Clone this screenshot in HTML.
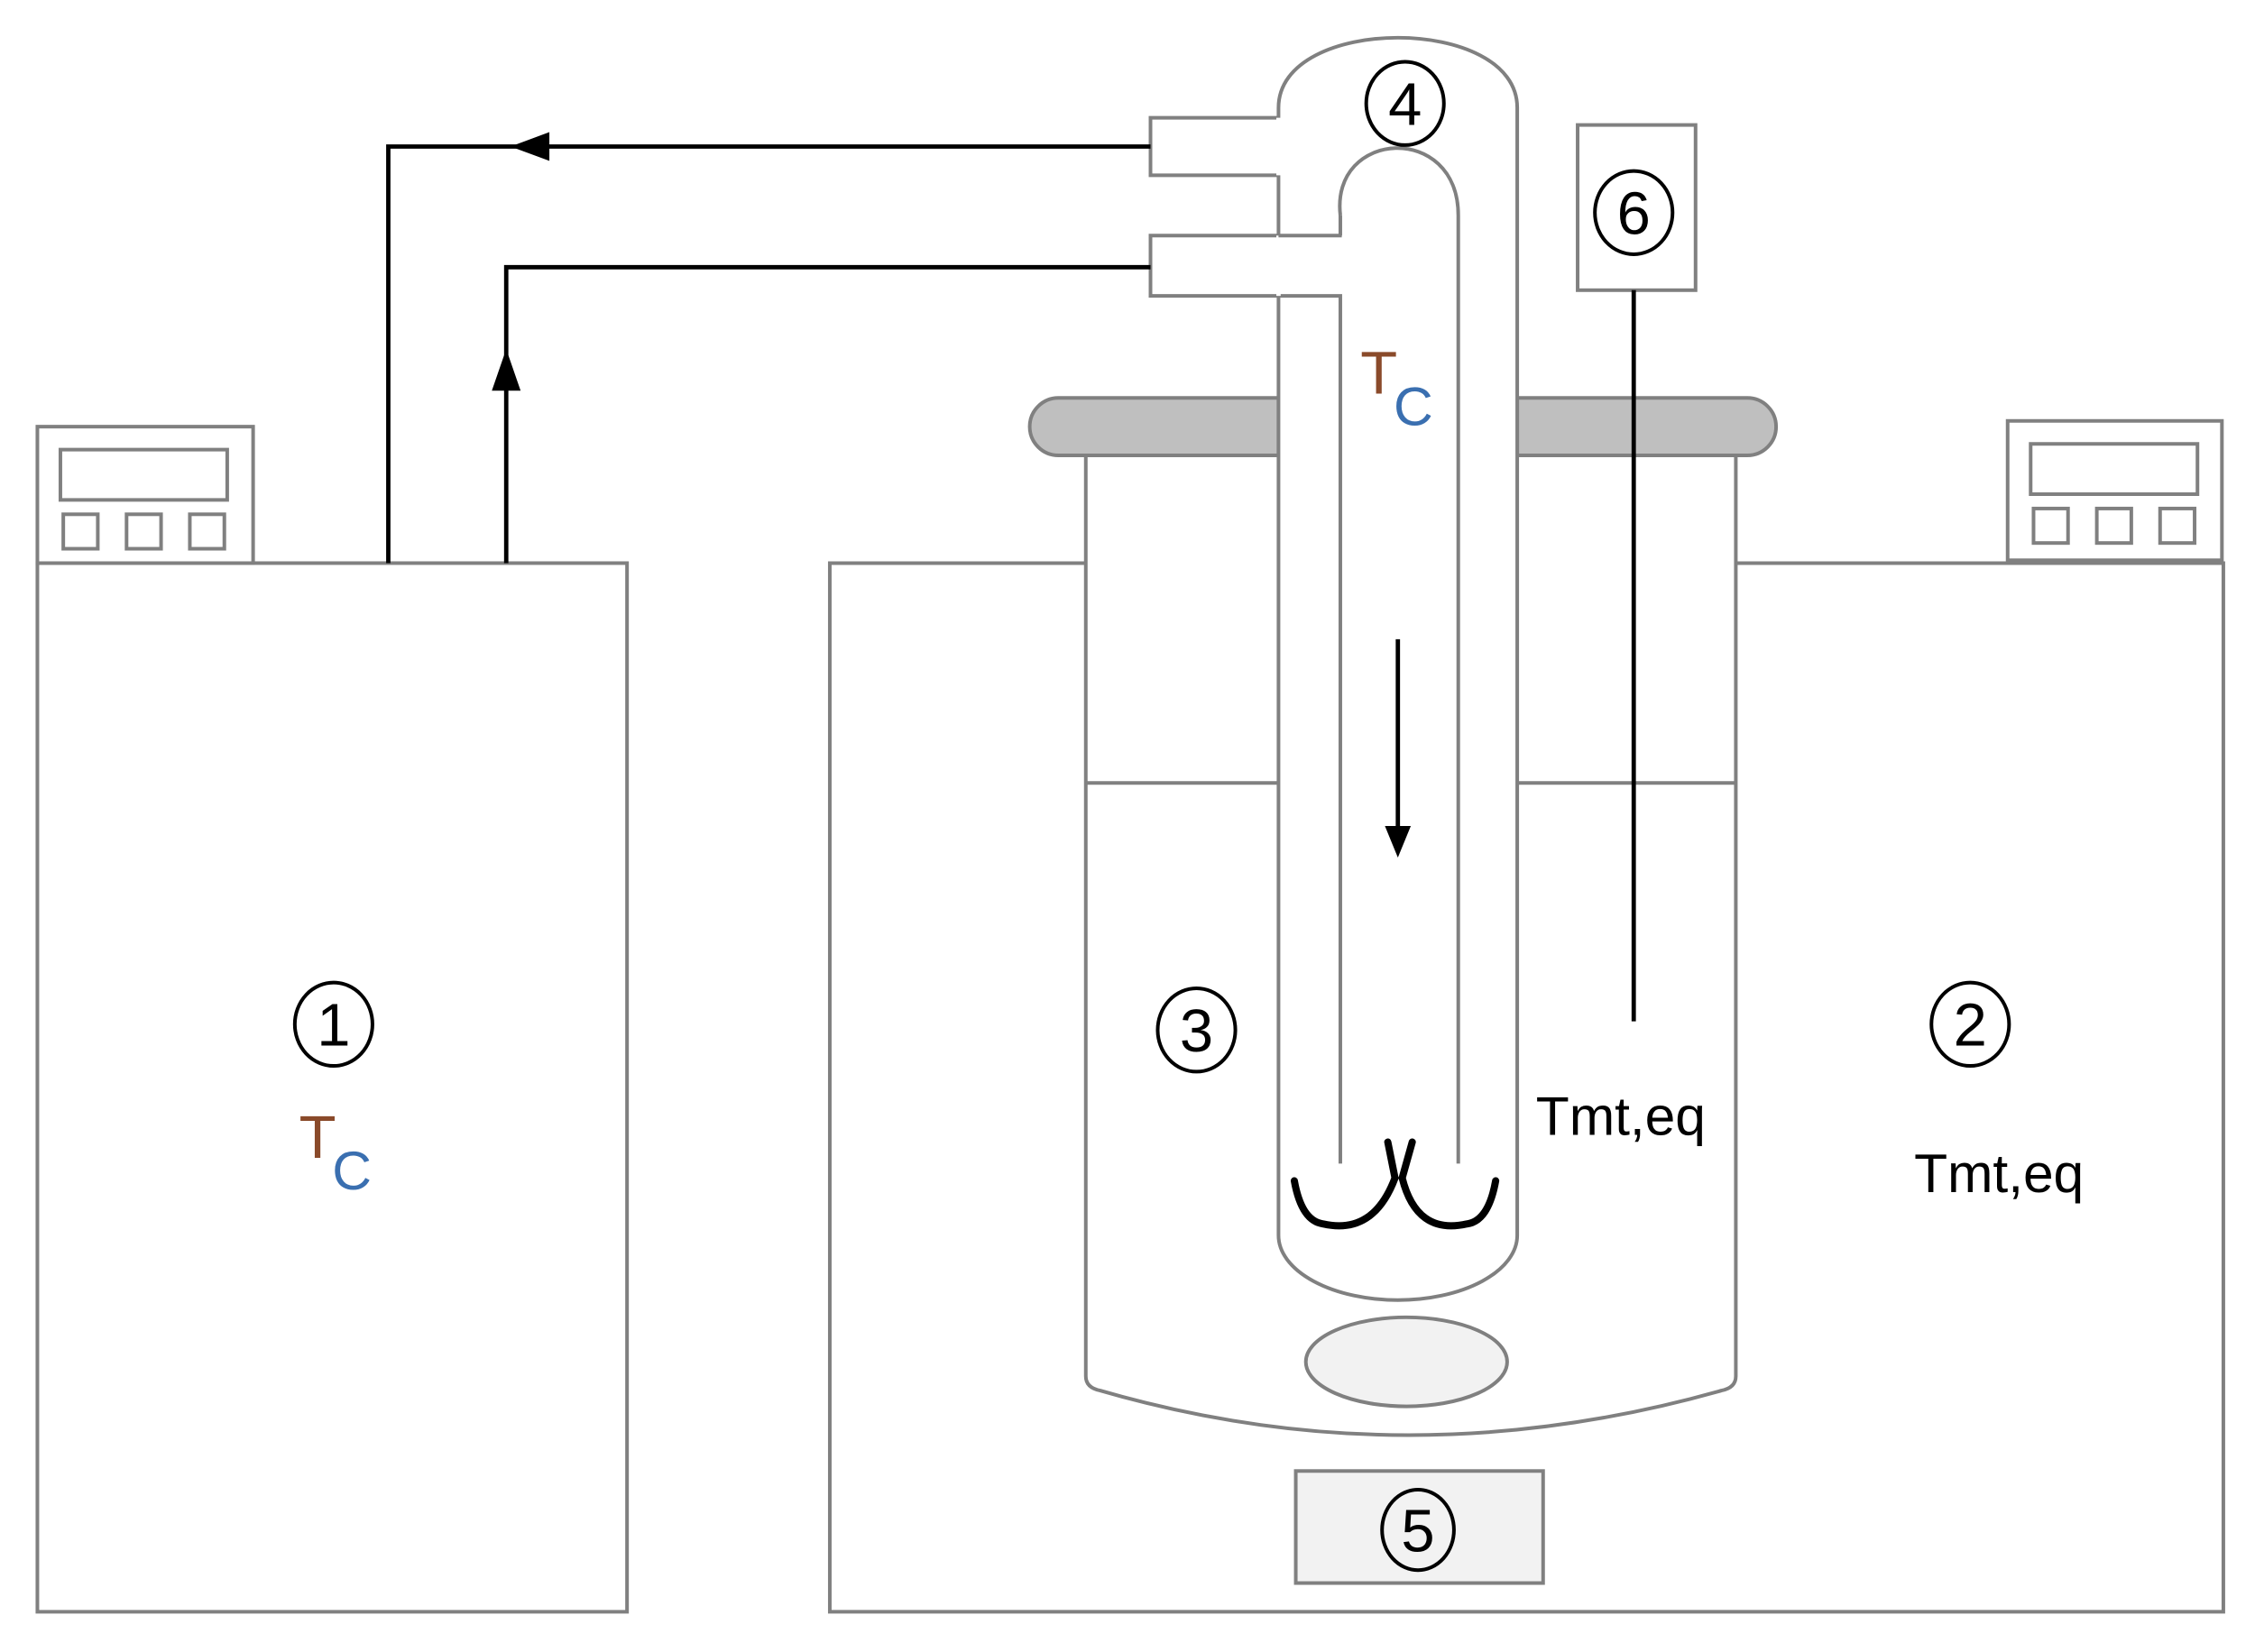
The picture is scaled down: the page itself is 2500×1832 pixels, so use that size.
<!DOCTYPE html>
<html><head><meta charset="utf-8"><style>
html,body{margin:0;padding:0;background:#fff;}
svg{display:block;}
text{font-family:"Liberation Sans","DejaVu Sans",sans-serif;}
</style></head><body>
<svg width="2500" height="1832" viewBox="0 0 1568 1150" preserveAspectRatio="none" xmlns="http://www.w3.org/2000/svg">
<g fill="none" stroke="#808080" stroke-width="2.5">
<rect x="26" y="392" width="410" height="730" fill="#fff"/>
<rect x="26" y="297" width="150" height="95" fill="#fff"/>
<rect x="42" y="313" width="116" height="35"/>
<rect x="44" y="358" width="24" height="24"/><rect x="88" y="358" width="24" height="24"/><rect x="132" y="358" width="24" height="24"/>
<path d="M755,392 H577 V1122 H1546 V392 H1207"/>
<rect x="1396" y="293" width="149" height="97" fill="#fff"/>
<rect x="1412" y="309" width="116" height="35"/>
<rect x="1414" y="354" width="24" height="24"/><rect x="1458" y="354" width="24" height="24"/><rect x="1502" y="354" width="24" height="24"/>
<path d="M755,317 V958 Q755,966 765,968 Q978,1030 1197,968 Q1207,966 1207,958 V317"/>
<line x1="755" y1="545" x2="889" y2="545"/>
<line x1="1055" y1="545" x2="1207" y2="545"/>
<path d="M889,277 H736 A20,20 0 0 0 736,317 H889 Z" fill="#bfbfbf"/>
<path d="M1055,277 H1215 A20,20 0 0 1 1215,317 H1055 Z" fill="#bfbfbf"/>
<path d="M889,75 C889,10 1055,10 1055,75" />
<path d="M889,75 V82 H800 V122 H889 V164 H800 V206 H889 V860 A83,45 0 0 0 1055,860 V75" fill="#fff"/>
<path d="M932,810 V206 H889" />
<path d="M932,150 C925,90 1014,85 1014,150 V810"/>
<line x1="932" y1="150" x2="932" y2="164"/>
<rect x="1097" y="87" width="82" height="115" fill="#fff"/>
<ellipse cx="978" cy="948" rx="70" ry="31" fill="#f2f2f2"/>
<rect x="901" y="1024" width="172" height="78" fill="#f2f2f2"/>
</g>
<line x1="889" y1="82" x2="889" y2="122" stroke="#fff" stroke-width="3"/>
<line x1="889" y1="164" x2="889" y2="206" stroke="#fff" stroke-width="3"/>
<line x1="889" y1="164" x2="933" y2="164" stroke="#808080" stroke-width="2.5"/>
<g stroke="#000" stroke-width="3" fill="none">
<path d="M270,392 V102 H800"/>
<path d="M352,392 V186 H800"/>
<line x1="1136" y1="202" x2="1136" y2="711"/>
<line x1="972" y1="445" x2="972" y2="580"/>
</g>
<path d="M355,102 L382,92 L382,112 z" fill="#000"/>
<path d="M352,243 L342,272 L362,272 z" fill="#000"/>
<path d="M972,597 L963,575 L981,575 z" fill="#000"/>
<g stroke="#000" stroke-width="5" fill="none" stroke-linecap="round">
<path d="M900,822 Q905,850 920,852 Q955,860 970,820 L965,795"/>
<path d="M1040,822 Q1035,850 1020,852 Q985,860 975,820 L982,795"/>
</g>
<g fill="none" stroke="#000" stroke-width="2.5">
<ellipse cx="232" cy="713" rx="27" ry="29"/>
<ellipse cx="1370" cy="713" rx="27" ry="29"/>
<ellipse cx="832" cy="717" rx="27" ry="29"/>
<ellipse cx="977" cy="72" rx="27" ry="29"/>
<ellipse cx="986" cy="1065" rx="25" ry="28"/>
<ellipse cx="1136" cy="148" rx="27" ry="29"/>
</g>
<g font-size="42" text-anchor="middle" fill="#000">
<text x="232" y="728">1</text>
<text x="1370" y="728">2</text>
<text x="832" y="732">3</text>
<text x="977" y="87">4</text>
<text x="986" y="1080">5</text>
<text x="1136" y="163">6</text>
</g>
<text x="208" y="806" font-size="42" fill="#8a4a2a">T</text><text x="231" y="828" font-size="38" fill="#3a6fb0">C</text>
<text x="946" y="274" font-size="42" fill="#8a4a2a">T</text><text x="969" y="296" font-size="38" fill="#3a6fb0">C</text>
<text x="1068" y="790" font-size="38" fill="#000" textLength="118">Tmt,eq</text>
<text x="1331" y="830" font-size="38" fill="#000" textLength="118">Tmt,eq</text>
</svg>
</body></html>
